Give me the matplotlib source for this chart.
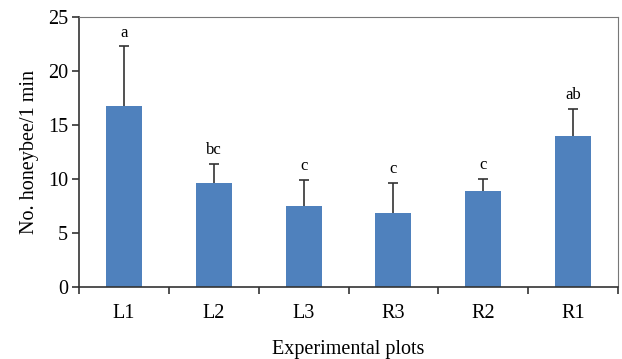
import matplotlib
matplotlib.use("Agg")
import matplotlib.pyplot as plt
import numpy as np

categories = ["L1", "L2", "L3", "R3", "R2", "R1"]
means = [16.75, 9.66, 7.5, 6.88, 8.89, 13.98]
errors = [5.55, 1.78, 2.46, 2.78, 1.14, 2.52]
letters = ["a", "bc", "c", "c", "c", "ab"]

plt.rcParams['font.family'] = ['Liberation Serif', 'DejaVu Serif']

fig = plt.figure(figsize=(6.22, 3.59), dpi=100)
ax = fig.add_axes([0.127, 0.1997, 0.8666, 0.7521])

x = np.arange(len(categories))
ax.bar(x, means, width=0.4, color="#4F81BD", zorder=2)
eb = ax.errorbar(x, means, yerr=[np.zeros(len(means)), errors], fmt='none',
                 ecolor="#333333", elinewidth=1.2, capsize=3.5, capthick=1.2, zorder=3)
eb[1][0].remove()
for xi, m, e, l in zip(x, means, errors, letters):
    ax.text(xi, m + e + 0.55, l, ha='center', va='bottom', fontsize=12)

ax.set_xlim(-0.5, len(categories) - 0.5)
ax.set_ylim(0, 25)
ax.set_yticks(np.arange(0, 26, 5))
ax.set_xticks(x)
ax.set_xticklabels(categories, fontsize=14.5)
ax.tick_params(axis='x', length=0, pad=12)
ax.set_xticks(np.arange(-0.5, len(categories), 1), minor=True)
ax.tick_params(axis='x', which='minor', length=5, width=1.2, color="#333333", direction='out')
ax.tick_params(axis='y', labelsize=14.5, length=5, width=1.2, color="#333333", direction='out', pad=3)
for s in ['left', 'bottom']:
    ax.spines[s].set_color("#333333")
    ax.spines[s].set_linewidth(1.2)
for s in ['top', 'right']:
    ax.spines[s].set_color("#777777")
    ax.spines[s].set_linewidth(0.8)

ax.set_xlabel("Experimental plots", fontsize=14.5, labelpad=12)
ax.set_ylabel("No. honeybee/1 min", fontsize=14.5, labelpad=6)

fig.savefig("out.png", dpi=100)
